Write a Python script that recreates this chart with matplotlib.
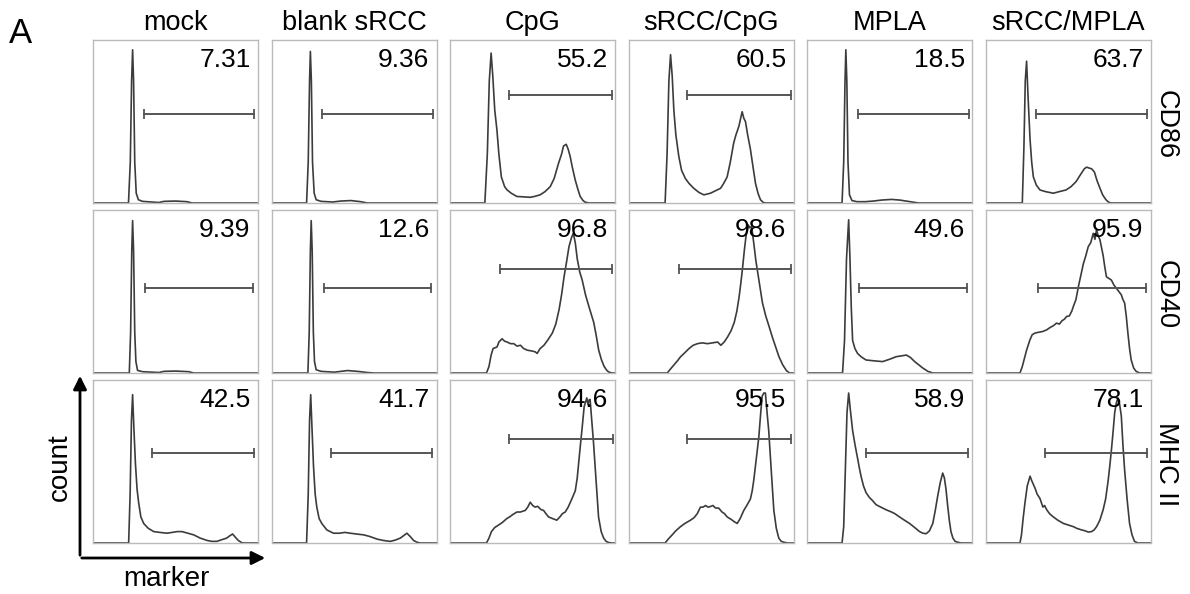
import matplotlib
matplotlib.use('Agg')
import numpy as np
from matplotlib import pyplot as plt
from matplotlib.patches import FancyArrowPatch

plt.rcParams['font.family'] = ['Liberation Sans', 'DejaVu Sans']

# column / row names
conditions = ['mock', 'blank sRCC', 'CpG', 'sRCC/CpG', 'MPLA', 'sRCC/MPLA']
markers = ['CD86', 'CD40', 'MHC II']

# percent positive in the gate, one list per marker
pct_cd86 = ['7.31', '9.36', '55.2', '60.5', '18.5', '63.7']
pct_cd40 = ['9.39', '12.6', '96.8', '98.6', '49.6', '95.9']
pct_mhc = ['42.5', '41.7', '94.6', '95.5', '58.9', '78.1']

# gate (marker bar) start, end and height, in panel units (0-100)
gate_lo_cd86 = [30.7, 30.6, 35.4, 35.4, 30.4, 30.3]
gate_hi_cd86 = [97.8, 97.9, 98.0, 98.0, 98.0, 97.4]
gate_y_cd86 = [54.5, 54.5, 66, 66, 54.5, 54.5]
gate_lo_cd40 = [31.4, 31.6, 30.4, 30.4, 31.4, 31.7]
gate_hi_cd40 = [97.0, 96.6, 98.0, 98.0, 96.8, 97.0]
gate_y_cd40 = [52, 52, 64, 64, 52, 52]
gate_lo_mhc = [36.0, 36.0, 35.4, 35.0, 35.5, 36.0]
gate_hi_mhc = [97.4, 97.4, 98.4, 98.4, 97.4, 97.4]
gate_y_mhc = [55, 55, 64, 64, 55, 55]

# histograms: (fluorescence, count) in % of panel
mock_cd86 = [(0, 0), (21.5, 0), (22.6, 25), (23.4, 75), (24, 94), (24.6, 75), (25.3, 25), (26.2, 6),
             (27.5, 2), (30, 1), (40, 0.3), (43, 1), (50, 1.2), (57, 0.8), (60, 0), (100, 0)]
blank_cd86 = [(0, 0), (21.2, 0), (22.2, 25), (23, 75), (23.5, 93), (24.1, 75), (24.8, 25), (25.8, 6),
              (27, 2), (30, 1), (37, 0.6), (42, 1.2), (48, 1.5), (54, 0.8), (58, 0), (100, 0)]
cpg_cd86 = [(0, 0), (21, 0), (22.5, 30), (23.7, 75), (24.8, 92), (25.8, 78), (27, 57), (28.3, 45),
            (29.5, 30), (31, 16), (33, 10), (34.5, 8), (37, 6), (40.4, 4), (44, 3.8), (48.5, 3.5),
            (51, 4), (54.5, 5), (57.5, 7), (60.6, 10), (63, 15), (65.7, 24.5), (67.5, 30), (68.7, 35),
            (70.3, 36), (71.5, 33), (72.7, 28.6), (74, 22), (75.8, 14), (77.5, 8), (78.8, 4),
            (80.5, 1.5), (81.8, 0.5), (84, 0), (100, 0)]
src_cpg_cd86 = [(0, 0), (22, 0), (23.2, 30), (24.3, 75), (25.3, 91), (26.3, 78), (27.3, 57), (28.5, 42),
                (30.3, 28.6), (32, 20), (34.3, 15), (36.5, 12), (39.4, 9), (42.5, 6.5), (45.5, 5),
                (49.5, 6), (52.5, 7.5), (55.6, 9), (57.5, 12), (59.6, 16), (61.5, 25), (63.6, 37),
                (65, 42), (66.7, 47), (67.8, 52), (68.7, 56), (69.7, 52), (70.7, 50), (72, 42),
                (73.7, 33), (75.3, 22), (76.8, 12), (78.3, 6), (79.8, 2), (81.5, 0.3), (83, 0), (100, 0)]
mpla_cd86 = [(0, 0), (21, 0), (22, 25), (22.8, 75), (23.3, 94), (23.9, 75), (24.6, 25), (25.5, 5),
             (27, 1.5), (30, 0.8), (35, 0.8), (40, 1.2), (45, 1.8), (51, 2.2), (56, 1.8), (61, 1),
             (66, 0.2), (68, 0), (100, 0)]
src_mpla_cd86 = [(0, 0), (22, 0), (23, 35), (23.8, 75), (24.6, 87), (25.5, 65), (26.7, 39), (27.7, 25),
                 (28.7, 16), (30.5, 11), (32.7, 8), (36, 7), (40.8, 6), (44.5, 7), (48.5, 8), (51.5, 10),
                 (54.5, 13), (57, 17), (59.6, 21), (61, 22), (62.6, 21.4), (64, 21), (65.7, 19),
                 (67.2, 14), (68.7, 10), (70.7, 5), (72.7, 2), (74.5, 0.3), (76, 0), (100, 0)]

mock_cd40 = [(0, 0), (22, 0), (22.8, 25), (23.5, 75), (24, 93.5), (24.6, 75), (25.3, 25), (26, 7),
             (27, 1.6), (30, 0.8), (40, 0.3), (43, 1), (50, 1.2), (58, 0.8), (61, 0), (100, 0)]
blank_cd40 = [(0, 0), (22, 0), (22.8, 25), (23.5, 75), (24, 93.5), (24.6, 75), (25.3, 25), (26, 7),
              (27, 2), (30, 1), (38, 0.5), (42, 1), (46, 1.5), (52, 1), (58, 0.3), (62, 0), (100, 0)]
cpg_cd40 = [(0, 0), (22, 0), (23.5, 4), (24.8, 11), (26, 15), (27.2, 15.5), (28.4, 16), (29.5, 19),
            (31.4, 21), (33, 19.5), (34.5, 19), (36.5, 18), (38.5, 18), (40.5, 16.5), (42.6, 17),
            (44.5, 15), (46.7, 14), (49.5, 13.5), (51.5, 13), (52.7, 12), (54.5, 15), (56.8, 17),
            (59, 20), (61.9, 24.5), (64, 30), (66, 39), (67.5, 48), (69, 59), (70.5, 68), (72, 77.6),
            (73.5, 83), (74.6, 85.7), (75.8, 80), (77, 70), (78.5, 62), (80, 57), (82, 48), (84, 41),
            (85.5, 36), (87, 31), (88.5, 23), (90, 14), (91.7, 8), (93.3, 4), (95, 1.5), (96.3, 0.5),
            (98, 0), (100, 0)]
src_cpg_cd40 = [(0, 0), (23.3, 0), (25.3, 2.5), (27.4, 5), (29.5, 7.5), (31.4, 10), (34, 12.5),
                (36.5, 15), (39, 17), (41.6, 18), (44.5, 18.5), (47.7, 18), (50.8, 18.5), (53.8, 19),
                (55.8, 17), (57.8, 19), (59.8, 22), (62, 26), (63.9, 31), (65.5, 38), (66.9, 47),
                (68, 56), (69, 65), (70, 75), (71, 83.7), (72.4, 90.8), (73.4, 89), (74.4, 90),
                (75.7, 80), (77, 69), (79, 56), (81, 43), (83, 35), (85, 28.6), (87, 22), (89, 16),
                (91, 10), (93.3, 5), (95.5, 1.5), (97.4, 0), (100, 0)]
mpla_cd40 = [(0, 0), (21.3, 0), (22.5, 20), (23.7, 70), (25, 94), (25.8, 70), (26.6, 40), (27.4, 20),
             (28.8, 15), (30.4, 12), (32.5, 10), (35.5, 8), (40, 7.5), (45.6, 7), (50, 8.5),
             (53.8, 10), (57, 10.5), (60, 11), (62.5, 9.5), (65, 7), (67.5, 5), (70, 3), (73, 1),
             (76, 0), (100, 0)]
src_mpla_cd40 = [(0, 0), (20.6, 0), (22, 4), (23.3, 9), (24.6, 14), (26.5, 20), (28, 23.5), (29.7, 24.5),
                 (32, 25), (34.5, 25.5), (36.8, 26.5), (39, 28), (40.8, 29), (42.8, 30.6), (44.5, 30),
                 (46, 32), (47.5, 33), (48.9, 34.7), (50.5, 35), (52, 38), (53, 41), (54.5, 45),
                 (56, 53), (57.5, 60), (59, 67), (60.5, 72), (62, 77.6), (63.5, 80), (65, 85.7),
                 (66, 82), (67, 88), (68, 84), (69, 82), (70, 77), (71, 72), (72, 65), (73, 59),
                 (74.5, 58), (76, 57), (77.5, 54), (79, 52), (80.5, 50), (82, 48), (83, 45), (84, 43),
                 (85, 35), (86, 24.5), (87, 15), (88, 8), (89.5, 3), (91, 1), (93, 0), (100, 0)]

mock_mhc = [(0, 0), (21.6, 0), (22.5, 30), (23.3, 75), (24, 91), (24.8, 70), (25.7, 49), (26.7, 33),
            (27.7, 24.5), (29, 16), (30.7, 12), (33.5, 9), (36.8, 7), (40.5, 6.5), (44.8, 6), (48, 6.5),
            (51, 7), (53.9, 7), (57.5, 6), (61, 5), (65, 3), (69, 1.6), (72, 1), (75, 1), (78, 2),
            (81, 3), (83, 4.5), (84.6, 5.5), (86.3, 3.5), (88, 1.6), (90, 0.3), (91, 0), (100, 0)]
blank_mhc = [(0, 0), (21.2, 0), (22.2, 30), (23, 75), (23.7, 91), (24.5, 70), (25.4, 47), (26.4, 30),
             (27.4, 22), (28.8, 15), (30.4, 12), (33.5, 8), (37.5, 6), (41, 6), (44.5, 6.5), (47.7, 6),
             (51.5, 5.5), (55.8, 5), (59.5, 4), (63.9, 2.4), (68, 1.5), (72, 1), (75, 1.8), (78, 3),
             (80, 4.5), (82, 6), (84, 4), (86, 1.6), (88, 0.5), (90, 0), (100, 0)]
cpg_mhc = [(0, 0), (22, 0), (23.5, 3), (25, 7), (27, 9.5), (29.3, 11), (31.5, 12.5), (34.3, 15),
           (36, 16), (38, 17.5), (40.4, 19), (42.5, 19), (45.5, 20), (47, 22), (48.5, 25), (50, 23),
           (51.5, 22), (53, 22.5), (55, 20.5), (56.6, 20), (58, 18), (59.6, 16), (62, 15), (64.6, 14),
           (66.5, 16), (68, 18), (69.7, 19), (71.5, 22), (73.7, 27), (75.8, 32), (77, 40), (78.8, 59),
           (80, 71), (81.2, 83.7), (82.8, 89), (83.5, 85), (84.3, 88), (84.8, 88), (85.8, 75),
           (86.9, 61), (88.3, 40), (89.9, 16), (91.5, 7), (93, 3), (94.5, 1), (96, 0.3), (98, 0),
           (100, 0)]
src_cpg_mhc = [(0, 0), (22, 0), (24, 2.5), (26.3, 5), (28.5, 7.5), (31.3, 10), (34, 12), (37.4, 14),
               (39.5, 15.5), (41.5, 18), (43.4, 22), (45, 22), (46.5, 23), (48, 22), (49.5, 22.4),
               (51, 23), (52.5, 21.5), (54.5, 21.4), (56.5, 19), (58, 18), (59.6, 16), (62, 14.5),
               (64, 13), (65.7, 12), (67.5, 15), (69.7, 20), (71.5, 23), (73.7, 27), (74.8, 32),
               (75.8, 39), (77.3, 52), (78.8, 65), (79.8, 78), (80.8, 90), (81.8, 92), (82.8, 92),
               (83.8, 80), (84.8, 69), (86.3, 45), (87.9, 20), (89.4, 9), (90.9, 3), (92.4, 1),
               (93.9, 0.5), (96, 0), (100, 0)]
mpla_mhc = [(0, 0), (21, 0), (22, 10), (23, 45), (24, 80), (25, 92), (26.2, 80), (27.4, 69), (28.9, 60),
            (30.4, 52), (31.5, 46), (32.5, 41), (34, 35), (35.5, 31), (37.5, 28), (39.5, 26),
            (41.6, 23.5), (44.5, 22), (47.7, 20.4), (51, 19), (53, 18), (55.8, 16), (58.8, 14),
            (61.9, 12), (65, 9.5), (68, 7), (70, 6), (72, 5.7), (74, 7.5), (76, 12), (77.5, 20),
            (79, 29), (80.5, 37), (82, 42.9), (83, 40), (84, 33), (85, 23), (86, 14), (87, 7),
            (88.2, 3), (89.5, 1), (91, 0.5), (93, 0), (100, 0)]
src_mpla_mhc = [(0, 0), (20.6, 0), (21.5, 5), (22.5, 15), (23.6, 24.5), (25, 35), (26.7, 41), (27.8, 38),
                (29.7, 33.7), (31, 30), (32.7, 27.3), (34.5, 22), (35.5, 23), (36.8, 20.4), (38.5, 18),
                (40.8, 16), (43.5, 14), (46.9, 12), (50, 11), (53, 10), (55, 9), (58, 8), (60, 7.5),
                (62, 6.7), (64, 7), (65.5, 8), (67, 10), (69, 14), (71, 20.4), (72.5, 27), (74, 38),
                (75, 47), (76, 57), (77, 68), (78, 80), (79, 86), (80, 89), (81, 85), (82, 78), (83, 60),
                (84, 45), (85.5, 27), (87, 12), (88.5, 5), (90, 1), (92, 0), (100, 0)]

rows = [
    ([mock_cd86, blank_cd86, cpg_cd86, src_cpg_cd86, mpla_cd86, src_mpla_cd86],
     pct_cd86, gate_lo_cd86, gate_hi_cd86, gate_y_cd86),
    ([mock_cd40, blank_cd40, cpg_cd40, src_cpg_cd40, mpla_cd40, src_mpla_cd40],
     pct_cd40, gate_lo_cd40, gate_hi_cd40, gate_y_cd40),
    ([mock_mhc, blank_mhc, cpg_mhc, src_cpg_mhc, mpla_mhc, src_mpla_mhc],
     pct_mhc, gate_lo_mhc, gate_hi_mhc, gate_y_mhc),
]

W, H = 1190, 594
fig = plt.figure(figsize=(W / 100, H / 100), dpi=100)

# panel grid in pixels
left0, pitch_x, pw = 93, 178.6, 165
top0, pitch_y, ph = 40, 170, 163

line_col = '#3c3c3c'
gate_col = '#555555'

for r, (curves, pcts, g_lo, g_hi, g_y) in enumerate(rows):
    for c in range(6):
        left = left0 + c * pitch_x
        top = top0 + r * pitch_y
        ax = fig.add_axes([left / W, 1 - (top + ph) / H, pw / W, ph / H])
        pts = np.array(curves[c])
        ax.plot(pts[:, 0], pts[:, 1], color=line_col, lw=1.2)
        ax.plot([g_lo[c], g_hi[c]], [g_y[c], g_y[c]], color=gate_col, lw=1.4,
                marker='|', markersize=6.5, mew=1.3)
        ax.text(95.5, 87.5, pcts[c], ha='right', va='center', fontsize=19, color='black')
        ax.set_xlim(0, 100)
        ax.set_ylim(0, 100)
        ax.set_xticks([])
        ax.set_yticks([])
        for s in ax.spines.values():
            s.set_color('#bbbbbb')
            s.set_linewidth(1.0)
        if r == 0:
            fig.text((left + pw / 2) / W, 1 - 30 / H, conditions[c], ha='center',
                     va='baseline', fontsize=19.5)
    fig.text(1166 / W, 1 - (top0 + r * pitch_y + ph / 2 + 3) / H, markers[r], rotation=270,
             ha='center', va='center', fontsize=19.5)

fig.text(9 / W, 1 - 43 / H, 'A', ha='left', va='baseline', fontsize=25)

# count / marker axes arrows
ox, oy = 80 / W, 1 - 558 / H
fig.add_artist(FancyArrowPatch((ox, oy), (ox, 1 - 373 / H), transform=fig.transFigure,
                               arrowstyle='-|>', mutation_scale=20, lw=2.0, color='black'))
fig.add_artist(FancyArrowPatch((ox - 1 / W, oy), (268 / W, oy), transform=fig.transFigure,
                               arrowstyle='-|>', mutation_scale=20, lw=2.0, color='black'))
fig.text(60 / W, 1 - 467 / H, 'count', rotation=90, ha='center', va='center', fontsize=20)
fig.text(166 / W, 1 - 586 / H, 'marker', ha='center', va='baseline', fontsize=20)

fig.savefig('out.png', dpi=100)
